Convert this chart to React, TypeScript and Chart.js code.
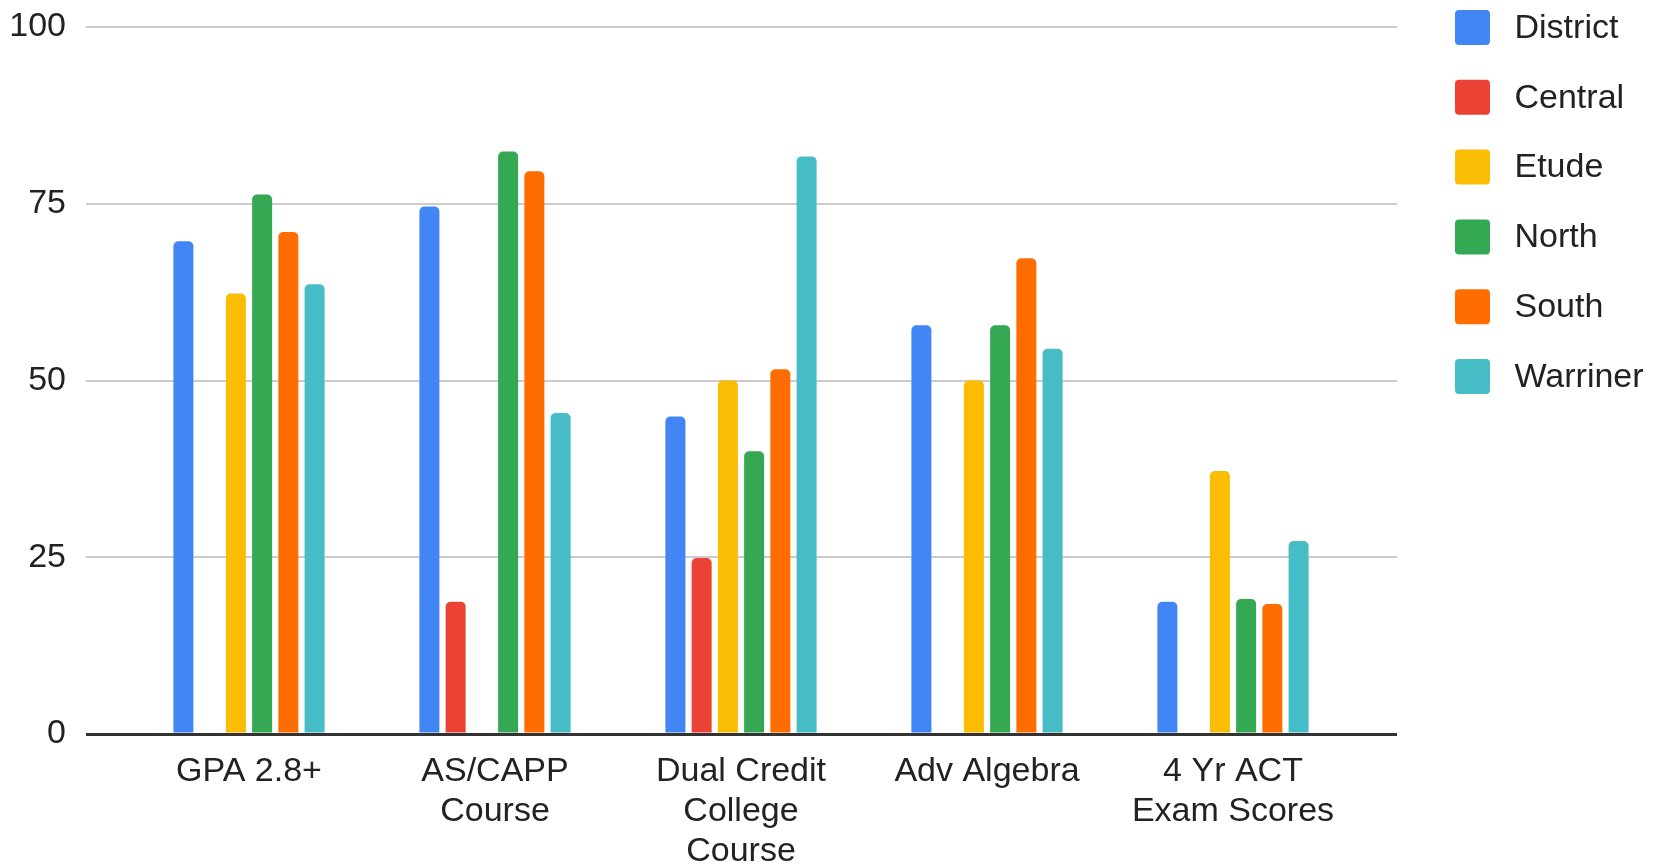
import React, { useEffect, useRef } from "react";
import { Chart, registerables } from "chart.js";

Chart.register(...registerables);

const categories: string[][] = [
  ["GPA 2.8+"],
  ["AS/CAPP", "Course"],
  ["Dual Credit", "College", "Course"],
  ["Adv Algebra"],
  ["4 Yr ACT", "Exam Scores"],
];
const seriesNames = ["District", "Central", "Etude", "North", "South", "Warriner"];
const seriesColors = ["#4285F4", "#EA4335", "#FBBC04", "#34A853", "#FF6D01", "#46BDC6"];
const district = [69.7, 74.6, 44.9, 57.8, 18.7];
const central = [null, 18.7, 24.9, null, null];
const etude = [62.3, null, 50.0, 50.0, 37.2];
const north = [76.3, 82.4, 40.0, 57.8, 19.1];
const south = [71.0, 79.6, 51.6, 67.3, 18.4];
const warriner = [63.6, 45.4, 81.7, 54.5, 27.3];
const yTickValues = [0, 25, 50, 75, 100];

const FONT = "'Liberation Sans', Arial, sans-serif";

const legendPlugin = {
  id: "customLegend",
  afterDraw(chart: any) {
    const ctx = chart.ctx;
    ctx.save();
    chart.data.datasets.forEach((ds: any, i: number) => {
      const cy = 27.5 + i * 69.8;
      ctx.fillStyle = ds.backgroundColor;
      ctx.beginPath();
      (ctx as any).roundRect(1455, cy - 17.5, 35, 35, 4);
      ctx.fill();
      ctx.fillStyle = "#222222";
      ctx.font = `34px ${FONT}`;
      ctx.textAlign = "left";
      ctx.textBaseline = "middle";
      ctx.fillText(ds.label, 1514.5, cy + 1);
    });
    ctx.restore();
  },
};

const gridColor = (c: any) => (c.tick && c.tick.value === 0 ? "#333333" : "#cccccc");
const gridWidth = (c: any) => (c.tick && c.tick.value === 0 ? 3 : 2);

export default function App() {
  const ref = useRef<HTMLCanvasElement>(null);
  useEffect(() => {
    document.body.style.margin = "0";
    const seriesValues = [district, central, etude, north, south, warriner];
    const chart = new Chart(ref.current as HTMLCanvasElement, {
      type: "bar",
      data: {
        labels: categories,
        datasets: seriesNames.map((name, i) => ({
          label: name,
          data: seriesValues[i],
          backgroundColor: seriesColors[i],
          borderRadius: { topLeft: 5, topRight: 5, bottomLeft: 0, bottomRight: 0 },
          borderSkipped: false,
          categoryPercentage: 0.64,
          barPercentage: 0.763,
        })),
      },
      options: {
        responsive: false,
        animation: false,
        layout: { padding: { top: 27, right: 258, left: 0, bottom: 0 } },
        plugins: {
          legend: { display: false },
          tooltip: { enabled: false },
        },
        scales: {
          x: {
            grid: { display: false, drawTicks: false },
            border: { display: false },
            ticks: {
              font: { family: FONT, size: 34, lineHeight: 40 / 34 },
              color: "#222222",
              padding: 18,
              maxRotation: 0,
              autoSkip: false,
            },
            afterFit: (scale: any) => {
              scale.height = 134;
              scale.paddingLeft = 0;
              scale.paddingRight = 0;
            },
          },
          y: {
            min: 0,
            max: 100,
            afterBuildTicks: (scale: any) => {
              scale.ticks = yTickValues.map((v) => ({ value: v }));
            },
            border: { display: false },
            grid: {
              color: gridColor,
              lineWidth: gridWidth,
              drawTicks: true,
              tickLength: 40,
            },
            ticks: {
              font: { family: FONT, size: 34 },
              color: "#222222",
              padding: 20,
            },
            afterFit: (scale: any) => {
              scale.width = 126;
              scale.paddingTop = 0;
              scale.paddingBottom = 0;
            },
          },
          y2: {
            position: "right",
            min: 0,
            max: 100,
            afterBuildTicks: (scale: any) => {
              scale.ticks = yTickValues.map((v) => ({ value: v }));
            },
            border: { display: false },
            grid: {
              drawOnChartArea: false,
              color: gridColor,
              lineWidth: gridWidth,
              drawTicks: true,
              tickLength: 41,
            },
            ticks: { display: false },
            afterFit: (scale: any) => {
              scale.width = 41;
              scale.paddingTop = 0;
              scale.paddingBottom = 0;
            },
          },
        },
      },
      plugins: [legendPlugin],
    });
    return () => chart.destroy();
  }, []);
  return (
    <div style={{ position: "fixed", left: 0, top: 0, width: 1655, height: 868, background: "#ffffff" }}>
      <canvas ref={ref} width={1655} height={868} style={{ display: "block" }} />
    </div>
  );
}
